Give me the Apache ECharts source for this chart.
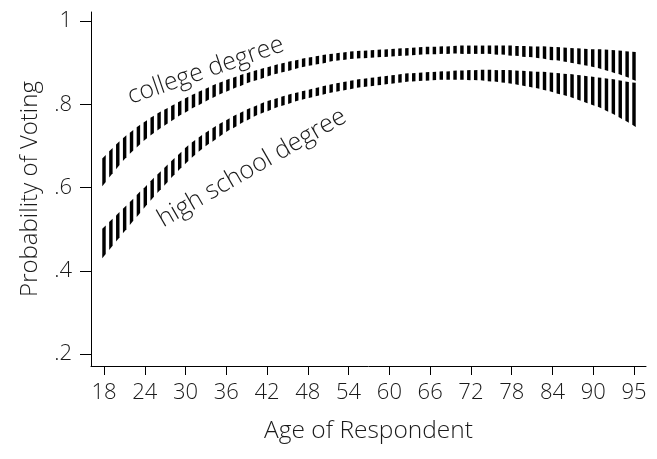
<!DOCTYPE html>
<html><head><meta charset="utf-8">
<script src="https://cdn.jsdelivr.net/npm/echarts@6/dist/echarts.min.js"></script>
<style>html,body{margin:0;padding:0;background:#fff}#c{width:657px;height:459px}</style>
</head><body><div id="c"></div><script>
const ages = [18,19,20,21,22,23,24,25,26,27,28,29,30,31,32,33,34,35,36,37,38,39,40,41,42,43,44,45,46,47,48,49,50,51,52,53,54,55,56,57,58,59,60,61,62,63,64,65,66,67,68,69,70,71,72,73,74,75,76,77,78,79,80,81,82,83,84,85,86,87,88,89,90,91,92,93,94,95];
const collegeLow = [.608,.629,.649,.668,.685,.700,.715,.728,.740,.751,.762,.773,.782,.792,.800,.809,.817,.825,.832,.839,.845,.852,.857,.862,.868,.873,.877,.881,.886,.890,.893,.896,.899,.903,.905,.907,.909,.910,.911,.912,.913,.914,.915,.916,.917,.918,.919,.920,.920,.921,.921,.922,.921,.921,.921,.921,.921,.919,.919,.917,.916,.914,.913,.911,.909,.906,.905,.902,.899,.896,.893,.890,.886,.881,.876,.871,.865,.858];
const collegeHigh = [.674,.691,.707,.722,.735,.748,.759,.770,.780,.789,.798,.807,.816,.824,.832,.839,.847,.853,.860,.865,.871,.876,.881,.886,.890,.895,.899,.903,.906,.910,.913,.916,.919,.921,.923,.925,.927,.928,.929,.930,.931,.932,.933,.934,.935,.936,.937,.938,.938,.939,.939,.940,.941,.941,.941,.941,.941,.941,.941,.941,.940,.940,.939,.939,.939,.938,.937,.936,.935,.934,.933,.932,.932,.931,.930,.929,.927,.926];
const hsLow = [.435,.455,.475,.495,.515,.534,.554,.573,.591,.609,.627,.644,.660,.675,.689,.702,.713,.725,.736,.745,.755,.763,.772,.779,.785,.792,.797,.802,.808,.812,.816,.820,.824,.828,.831,.834,.837,.840,.842,.844,.846,.848,.850,.852,.854,.855,.856,.857,.858,.859,.859,.859,.859,.858,.858,.857,.855,.854,.852,.850,.847,.844,.841,.838,.834,.830,.825,.821,.816,.810,.804,.798,.792,.784,.776,.767,.758,.748];
const hsHigh = [.505,.521,.537,.553,.569,.586,.602,.619,.635,.651,.667,.682,.698,.711,.723,.734,.745,.755,.764,.773,.781,.789,.796,.803,.809,.814,.819,.824,.828,.832,.836,.840,.844,.848,.851,.854,.857,.860,.862,.864,.866,.868,.870,.872,.874,.875,.876,.877,.878,.879,.879,.881,.881,.882,.882,.883,.883,.882,.882,.882,.881,.880,.879,.878,.878,.876,.875,.873,.872,.870,.868,.866,.864,.862,.860,.857,.854,.852];
const xTickLabels = ['18','24','30','36','42','48','54','60','66','72','78','84','90','95'];
const curveLabelText = ['college degree', 'high school degree'];

const FONT = '"Open Sans"';
const TXT = '#1a1a1a';

function bandSeries(name, low, high) {
  return {
    type: 'custom', name: name, xAxisIndex: 1, yAxisIndex: 1,
    silent: true, animation: false,
    data: ages.map((a, i) => [a, low[i], high[i], i]),
    renderItem: function (params, api) {
      const a = api.value(0), lo = api.value(1), hi = api.value(2), i = api.value(3);
      const i0 = Math.max(0, i - 1), i1 = Math.min(ages.length - 1, i + 1);
      const span = ages[i1] - ages[i0];
      const sL = (low[i1] - low[i0]) / span, sH = (high[i1] - high[i0]) / span;
      const hw = 0.25;
      const pts = [
        api.coord([a - hw, lo - sL * hw]),
        api.coord([a + hw, lo + sL * hw]),
        api.coord([a + hw, hi + sH * hw]),
        api.coord([a - hw, hi - sH * hw])
      ];
      return { type: 'polygon', shape: { points: pts }, style: { fill: '#000' } };
    }
  };
}

const chart = echarts.init(document.getElementById('c'), null, { renderer: 'canvas' });
chart.setOption({
  animation: false,
  backgroundColor: '#fff',
  grid: [
    { left: 91, right: 11, top: 12, bottom: 93 },
    { left: 104, right: 23, top: 21, bottom: 105 }
  ],
  xAxis: [
    { gridIndex: 0, type: 'value', min: 0, max: 1,
      axisLine: { show: true, lineStyle: { color: '#000', width: 1 } },
      axisTick: { show: false }, axisLabel: { show: false }, splitLine: { show: false },
      name: 'Age of Respondent', nameLocation: 'middle', nameGap: 53,
      nameTextStyle: { fontFamily: FONT, fontWeight: 300, fontSize: 24.5, color: TXT } },
    { gridIndex: 1, type: 'value', min: 18, max: 95, show: false },
    { gridIndex: 1, type: 'category', data: xTickLabels, boundaryGap: false, position: 'bottom', offset: 12,
      axisLine: { show: false },
      axisTick: { show: true, length: 9, interval: 0, lineStyle: { color: '#000', width: 1 } },
      axisLabel: { show: true, interval: 0, margin: 16, fontFamily: FONT, fontWeight: 300, fontSize: 22, color: TXT },
      splitLine: { show: false } }
  ],
  yAxis: [
    { gridIndex: 0, type: 'value', min: 0, max: 1,
      axisLine: { show: true, lineStyle: { color: '#000', width: 1 } },
      axisTick: { show: false }, axisLabel: { show: false }, splitLine: { show: false },
      name: 'Probability of Voting', nameLocation: 'middle', nameGap: 49,
      nameTextStyle: { fontFamily: FONT, fontWeight: 300, fontSize: 24, color: TXT } },
    { gridIndex: 1, type: 'value', min: 0.2, max: 1, interval: 0.2, offset: 13,
      axisLine: { show: false },
      axisTick: { show: true, length: 11, lineStyle: { color: '#000', width: 1 } },
      axisLabel: { show: true, margin: 19, fontFamily: FONT, fontWeight: 300, fontSize: 22, color: TXT,
        formatter: v => Math.abs(v - 1) < 1e-9 ? '1' : v.toFixed(1).replace(/^0/, '') },
      splitLine: { show: false } }
  ],
  series: [
    bandSeries('college degree', collegeLow, collegeHigh),
    bandSeries('high school degree', hsLow, hsHigh),
    {
      type: 'custom', xAxisIndex: 1, yAxisIndex: 1, silent: true, animation: false,
      data: [[32.8, 0.881, 0, 19], [39.5, 0.647, 1, 30]],
      renderItem: function (params, api) {
        const p = api.coord([api.value(0), api.value(1)]);
        return {
          type: 'text', x: p[0], y: p[1], rotation: api.value(3) * Math.PI / 180,
          style: { text: curveLabelText[api.value(2)], fontFamily: FONT, fontWeight: 300, fontSize: 25,
            fill: TXT, align: 'center', verticalAlign: 'middle' }
        };
      }
    }
  ]
});
</script></body></html>
